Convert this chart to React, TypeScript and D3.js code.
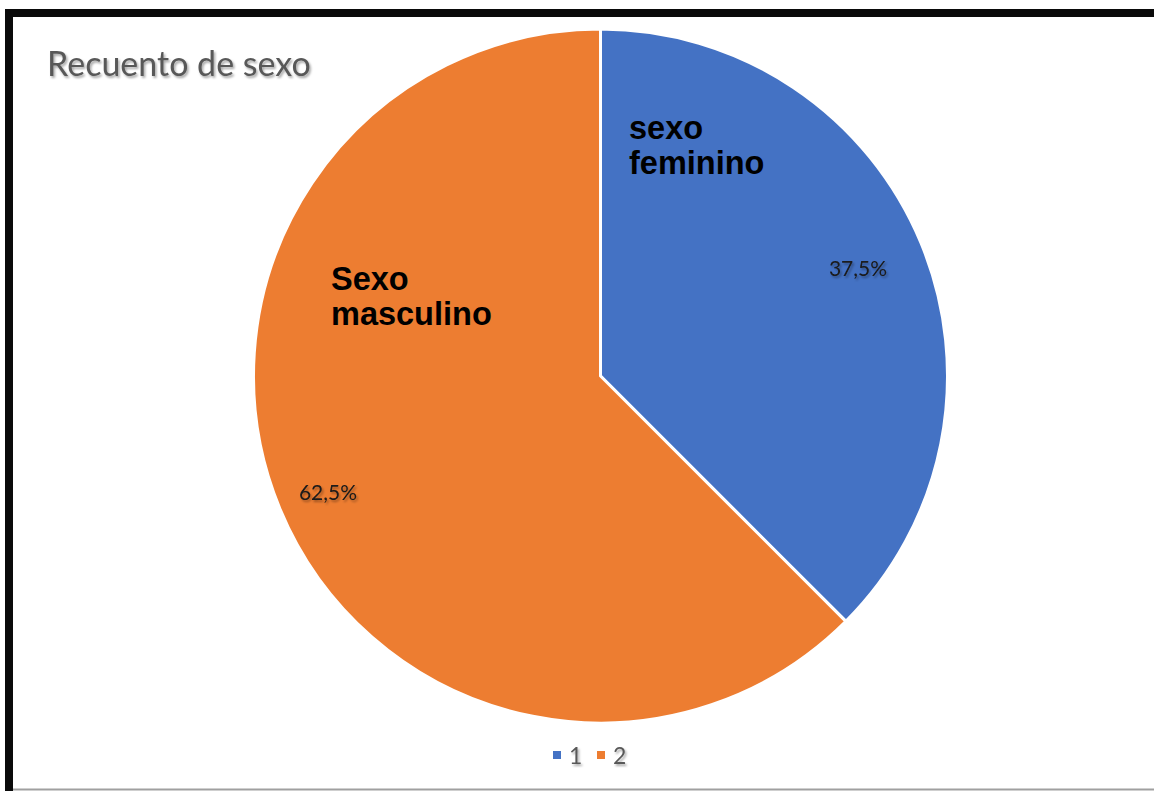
import React from "react";
import * as d3 from "d3";

const categories = ["1", "2"];
const values = [37.5, 62.5];
const pctLabels = ["37,5%", "62,5%"];
const sliceNames = [["sexo", "feminino"], ["Sexo", "masculino"]];
const colors = ["#4472C4", "#ED7D31"];
const title = "Recuento de sexo";

export default function App() {
  const W = 1154, H = 791;
  const cx = 600.5, cy = 376, r = 347;
  const pie = d3.pie<number>().sort(null).value((d) => d);
  const arcs = pie(values);
  const arc = d3.arc<d3.PieArcDatum<number>>().innerRadius(0).outerRadius(r);
  const namePos = [
    [629, 139],
    [331, 290],
  ];
  const pctPos = [
    [858, 276],
    [328, 500],
  ];
  return (
    <svg width={W} height={H} style={{ position: "absolute", left: 0, top: 0, background: "#fff" }}>
      <defs>
        <filter id="sh" x="-10%" y="-30%" width="130%" height="170%">
          <feDropShadow dx="1.5" dy="2" stdDeviation="1.2" floodColor="#000" floodOpacity="0.35" />
        </filter>
      </defs>
      <rect x={0} y={0} width={W} height={H} fill="#fff" />
      <rect x={5} y={9} width={W} height={8} fill="#0a0a0a" />
      <rect x={5} y={9} width={8} height={H} fill="#0a0a0a" />
      <rect x={13} y={788.5} width={W} height={2} fill="#a0a0a0" />
      <text x={47} y={76} fontFamily="Lato, 'Open Sans', sans-serif" fontSize={34} fill="#595959" filter="url(#sh)">
        {title}
      </text>
      <g transform={`translate(${cx},${cy})`}>
        {arcs.map((a, i) => (
          <path key={i} d={arc(a) || ""} fill={colors[i]} stroke="#fff" strokeWidth={3} />
        ))}
      </g>
      {pctLabels.map((t, i) => (
        <text key={t} x={pctPos[i][0]} y={pctPos[i][1]} textAnchor="middle" fontFamily="Lato, 'Open Sans', sans-serif" fontSize={21} fill="#1a1a1a" filter="url(#sh)">
          {t}
        </text>
      ))}
      {sliceNames.map((lines, i) => (
        <text key={i} fontFamily="'Liberation Sans', Arial, sans-serif" fontWeight="bold" fontSize={32.5} fill="#000">
          {lines.map((l, j) => (
            <tspan key={j} x={namePos[i][0]} y={namePos[i][1] + j * 35}>
              {l}
            </tspan>
          ))}
        </text>
      ))}
      {categories.map((c, i) => {
        const x0 = 553 + i * 44;
        return (
          <g key={c}>
            <rect x={x0} y={751} width={8} height={8} fill={colors[i]} />
            <text x={x0 + 16} y={764} fontFamily="Lato, 'Open Sans', sans-serif" fontSize={23} fill="#595959" filter="url(#sh)">
              {c}
            </text>
          </g>
        );
      })}
    </svg>
  );
}
